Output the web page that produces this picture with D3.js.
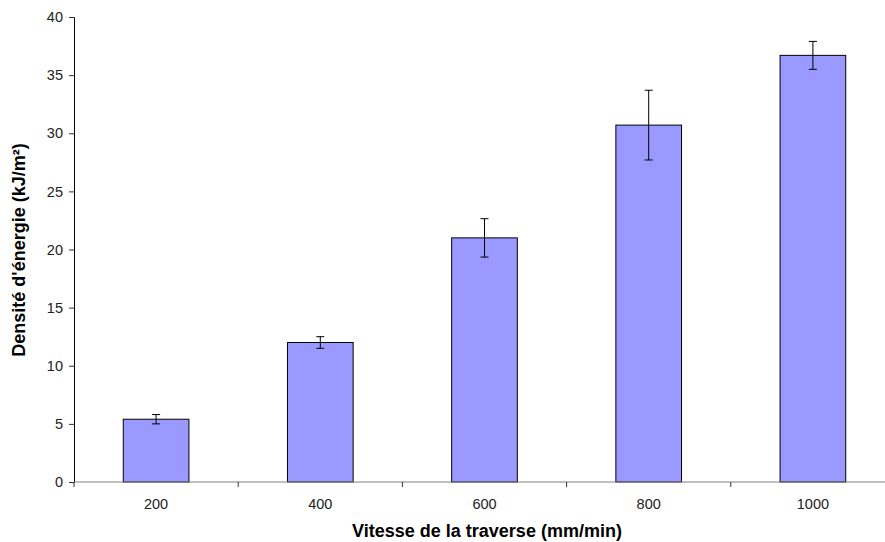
<!DOCTYPE html>
<html>
<head>
<meta charset="utf-8">
<script src="https://cdn.jsdelivr.net/npm/d3@7"></script>
<style>
  body { margin: 0; background: #fff; }
  svg { display: block; font-family: "Liberation Sans", Arial, sans-serif; }
</style>
</head>
<body>
<svg id="chart" width="885" height="542"></svg>
<script>
// Energy density vs crosshead speed
const speeds = ["200", "400", "600", "800", "1000"];
const density = [5.4, 12.0, 21.0, 30.7, 36.7];
const errors = [0.4, 0.5, 1.65, 3.0, 1.2];
const yTicks = [0, 5, 10, 15, 20, 25, 30, 35, 40];

const svg = d3.select("#chart");
const margin = { left: 74, top: 17, bottom: 60 };
const bandW = 164.2;
const plotW = bandW * speeds.length;
const plotH = 542 - margin.top - margin.bottom;

const g = svg.append("g").attr("transform", `translate(${margin.left},${margin.top})`);

const x = d3.scaleBand().domain(speeds).range([0, plotW]).paddingInner(0.6).paddingOuter(0.3);
const y = d3.scaleLinear().domain([0, 40]).range([plotH, 0]);

// bars
g.selectAll("rect.bar").data(speeds).join("rect")
  .attr("class", "bar")
  .attr("x", d => x(d))
  .attr("y", (d, i) => y(density[i]))
  .attr("width", x.bandwidth())
  .attr("height", (d, i) => y(0) - y(density[i]))
  .attr("fill", "#9999ff")
  .attr("stroke", "#000")
  .attr("stroke-width", 1);

// error bars
const eb = g.selectAll("g.err").data(speeds).join("g").attr("class", "err")
  .attr("transform", d => `translate(${x(d) + x.bandwidth() / 2},0)`);
eb.append("line")
  .attr("y1", (d, i) => y(density[i] + errors[i]))
  .attr("y2", (d, i) => y(density[i] - errors[i]))
  .attr("stroke", "#000");
eb.append("line")
  .attr("x1", -4).attr("x2", 4)
  .attr("y1", (d, i) => y(density[i] + errors[i]))
  .attr("y2", (d, i) => y(density[i] + errors[i]))
  .attr("stroke", "#000");
eb.append("line")
  .attr("x1", -4).attr("x2", 4)
  .attr("y1", (d, i) => y(density[i] - errors[i]))
  .attr("y2", (d, i) => y(density[i] - errors[i]))
  .attr("stroke", "#000");

// y axis
const yAxis = g.append("g")
  .call(d3.axisLeft(y).tickValues(yTicks).tickSize(5).tickPadding(6));
yAxis.select(".domain").attr("stroke", "#000");
yAxis.selectAll(".tick line").attr("stroke", "#333");
yAxis.selectAll(".tick text").attr("fill", "#222").style("font-size", "14.5px").style("font-family", "Liberation Sans, Arial, sans-serif");

// x axis with ticks between categories
const xAxis = g.append("g").attr("transform", `translate(0,${plotH})`);
xAxis.append("line").attr("x1", 0).attr("x2", plotW).attr("stroke", "#808080");
xAxis.selectAll("line.tk").data(d3.range(speeds.length + 1)).join("line")
  .attr("class", "tk")
  .attr("x1", i => i * bandW).attr("x2", i => i * bandW)
  .attr("y1", 0).attr("y2", 5).attr("stroke", "#333");
xAxis.selectAll("text").data(speeds).join("text")
  .attr("x", d => x(d) + x.bandwidth() / 2)
  .attr("y", 27)
  .attr("text-anchor", "middle")
  .attr("fill", "#222")
  .style("font-size", "14.5px")
  .text(d => d);

// axis titles
svg.append("text")
  .attr("x", 487).attr("y", 537)
  .attr("text-anchor", "middle")
  .style("font-size", "18px").style("font-weight", "bold")
  .text("Vitesse de la traverse (mm/min)");

svg.append("text")
  .attr("transform", "translate(25,250) rotate(-90)")
  .attr("text-anchor", "middle")
  .style("font-size", "18px").style("font-weight", "bold")
  .text("Densité d'énergie (kJ/m²)");
</script>
</body>
</html>
